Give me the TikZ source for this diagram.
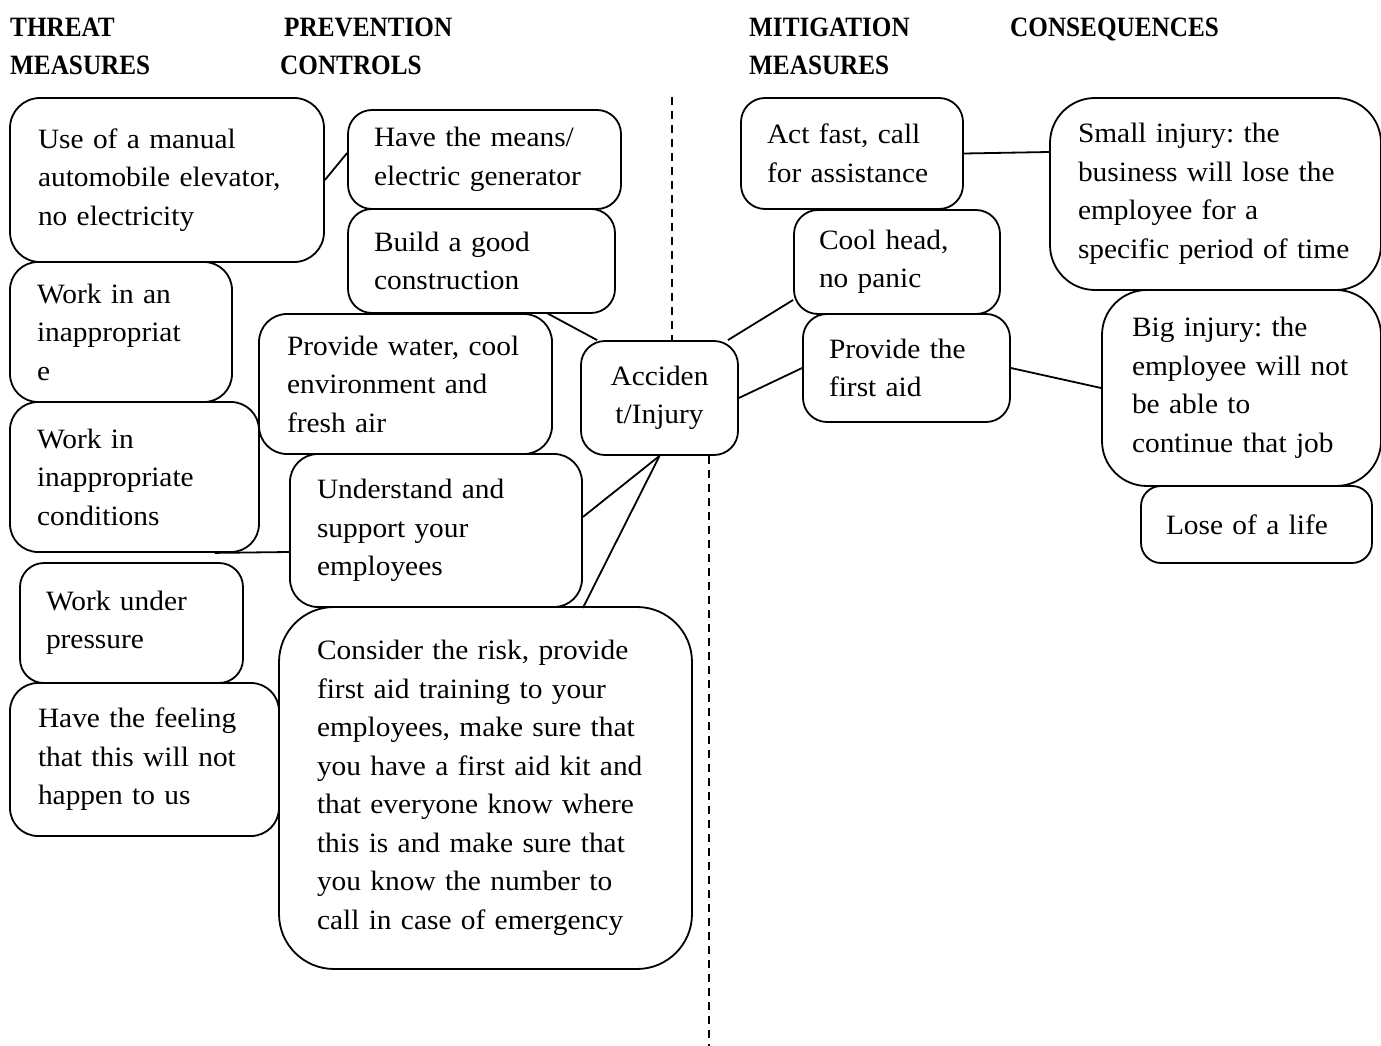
\documentclass[tikz,border=0pt]{standalone}
\usepackage{fontspec}
\setmainfont[FakeStretch=1.05]{Liberation Serif}
\newfontfamily\hdfont[FakeStretch=0.9]{Liberation Serif}
\frenchspacing
\begin{document}
\begin{tikzpicture}[x=1pt,y=-1pt,
  box/.style={draw, line width=1.8pt, fill=white, align=left, inner ysep=0pt,
    font=\fontsize{28}{38.5}\selectfont},
  link/.style={line width=1.8pt},
  divider/.style={line width=1.6pt, dash pattern=on 8pt off 6pt},
  head/.style={anchor=base west, inner sep=0pt, font=\hdfont\bfseries\fontsize{28}{38.5}\selectfont}]

% canvas
\fill[white] (0,0) rectangle (1381,1046);
\useasboundingbox (0,0) rectangle (1381,1046);

% box: name, left, top, right, bottom, corner radius, side padding, text
\newcommand\bx[8]{%
  \pgfmathsetmacro\bxw{#4-#2-2*#7}%
  \pgfmathsetmacro\bxh{#5-#3}%
  \pgfmathsetmacro\bxx{(#2+#4)/2}%
  \pgfmathsetmacro\bxy{(#3+#5)/2}%
  \node[box, rounded corners=#6pt, inner xsep=#7pt, text width=\bxw pt,
    minimum height=\bxh pt] (#1) at (\bxx,\bxy) {#8};}

% column headings
\node[head] (h1) at (10,37) {THREAT};
\node[head] (h2) at (10,75) {MEASURES};
\node[head] (h3) at (284,37) {PREVENTION};
\node[head] (h4) at (280,75) {CONTROLS};
\node[head] (h5) at (749,37) {MITIGATION};
\node[head] (h6) at (749,75) {MEASURES};
\node[head] (h7) at (1010,37) {CONSEQUENCES};

% threats and prevention controls
\bx{b1}{10}{98}{324}{262}{30}{28}{Use of a manual\\automobile elevator,\\no electricity}
\bx{b2}{348}{110}{621}{209}{24}{26}{Have the means/\\electric generator}
\bx{b3}{348}{209}{615}{313}{24}{26}{Build a good\\construction}
\bx{b4}{10}{262}{232}{402}{28}{27}{Work in an\\inappropriat\\e}
\bx{b5}{259}{314}{552}{454}{28}{28}{Provide water, cool\\environment and\\fresh air}
\bx{b6}{10}{402}{259}{552}{28}{27}{Work in\\inappropriate\\conditions}
\bx{b7}{290}{454}{582}{607}{28}{27}{Understand and\\support your\\employees}
\bx{b8}{20}{563}{243}{683}{24}{26}{Work under\\pressure}
\bx{b9}{10}{683}{279}{836}{28}{28}{Have the feeling\\that this will not\\happen to us}
\bx{b10}{279}{607}{692}{969}{55}{38}{Consider the risk, provide\\first aid training to your\\employees, make sure that\\you have a first aid kit and\\that everyone know where\\this is and make sure that\\you know the number to\\call in case of emergency}

% top event
\node[box, rounded corners=24pt, align=center, text width=137pt, inner xsep=10pt,
  minimum height=114pt] (acc) at (659.5,398) {Acciden\\t/Injury};

% mitigation measures and consequences
\bx{b12}{741}{98}{963}{209}{24}{26}{Act fast, call\\for assistance}
\bx{b13}{1050}{98}{1381}{290}{45}{28}{Small injury: the\\business will lose the\\employee for a\\specific period of time}
\bx{b14}{794}{210}{1000}{314}{24}{25}{Cool head,\\no panic}
\bx{b15}{803}{314}{1010}{422}{24}{26}{Provide the\\first aid}
\bx{b16}{1102}{290}{1381}{486}{45}{30}{Big injury: the\\employee will not\\be able to\\continue that job}
\bx{b17}{1141}{486}{1372}{563}{20}{25}{Lose of a life}

% connectors
\draw[link] (b1.east) -- ([yshift=6.5pt]b2.west);
\draw[link] ([xshift=-6pt]b5.north east) -- ([xshift=17pt]acc.north west);
\draw[link] (acc.south) -- ([yshift=13.5pt]b7.east);
\draw[link] (acc.south) -- (b7.south east);
\draw[link] ([xshift=80pt]b6.south) -- ([yshift=-21.5pt]b7.west);
\draw[link] ([xshift=-11pt]acc.north east) -- ([yshift=-38pt]b14.west);
\draw[link] (acc.east) -- (b15.west);
\draw[link] (b12.east) -- ([yshift=42pt]b13.west);
\draw[link] (b15.east) -- (b16.west);

% dividing line between prevention and mitigation sides
\coordinate (dtop) at (672,97);
\coordinate (dbot) at (709,1046);
\draw[divider] (dtop) -- (dtop |- acc.north);
\draw[divider] (dbot |- acc.south) -- (dbot);
\end{tikzpicture}
\end{document}
